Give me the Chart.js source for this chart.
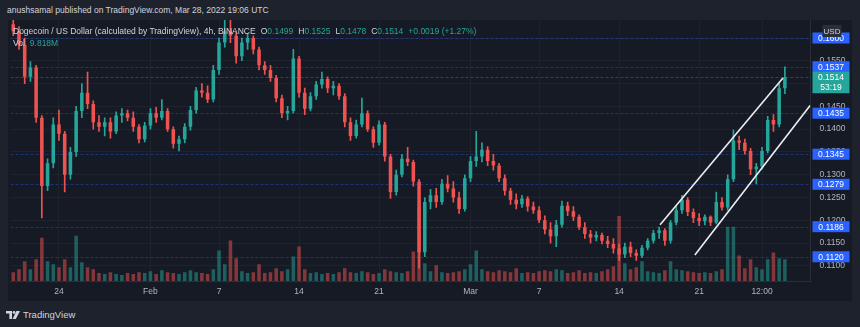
<!DOCTYPE html>
<html>
<head>
<meta charset="utf-8">
<script src="https://cdn.jsdelivr.net/npm/chart.js@4.4.1/dist/chart.umd.min.js"></script>
<style>
  html, body { margin: 0; padding: 0; }
  body { width: 860px; height: 327px; background: #1e222d; position: relative; overflow: hidden;
         font-family: Arial, "Liberation Sans", sans-serif; color: #d1d4dc; }
  #byline { position: absolute; left: 7px; top: 5px; font-size: 8.5px; line-height: 11px; white-space: nowrap; }
  #panel { position: absolute; left: 8px; top: 20px; width: 844px; height: 281px; background: #161a25; }
  #chart { position: absolute; left: 0; top: 0; }
  #legend { position: absolute; left: 5px; top: 6px; font-size: 8.5px; line-height: 11px; white-space: nowrap; }
  #vol { position: absolute; left: 5px; top: 18px; font-size: 8.5px; line-height: 11px; white-space: nowrap; }
  .up { color: #26a69a; }
  .gap { margin-left: 5px; }
  #footer { position: absolute; left: 6px; top: 309px; font-size: 9.5px; line-height: 11px; color: #d1d4dc; white-space: nowrap; }
  #footer svg { vertical-align: -1px; margin-right: 3px; }
</style>
</head>
<body>
<div id="byline">anushsamal published on TradingView.com, Mar 28, 2022 19:06 UTC</div>
<div id="panel">
  <canvas id="chart" width="844" height="281"></canvas>
  <div id="legend">Dogecoin / US Dollar (calculated by TradingView), 4h, BINANCE<span class="gap">O</span><span class="up">0.1499</span><span class="gap">H</span><span class="up">0.1525</span><span class="gap">L</span><span class="up">0.1478</span><span class="gap">C</span><span class="up">0.1514</span><span class="gap up">+0.0019 (+1.27%)</span></div>
  <div id="vol">Vol<span class="gap up">9.818M</span></div>
</div>
<div id="footer"><svg width="14" height="8" viewBox="0 0 14 8"><path d="M0 0h6v8H3.4V2.4H0z" fill="#d1d4dc"/><circle cx="8" cy="1.4" r="1.4" fill="#d1d4dc"/><path d="M10.4 0h3.6l-4.2 8H6.6z" fill="#d1d4dc"/></svg>TradingView</div>

<script>
// 12h candles, Jan 20 00:00 UTC -> Mar 28 12:00 UTC
const firstCandle = Date.UTC(2022, 0, 20);
const step = 12 * 3600 * 1000;

const opens = [
  0.1630, 0.1615, 0.1585, 0.1515, 0.1535, 0.1425, 0.1275, 0.1325, 0.1410, 0.1390,
  0.1300, 0.1350, 0.1440, 0.1480, 0.1455, 0.1415, 0.1405, 0.1415, 0.1395, 0.1430,
  0.1435, 0.1425, 0.1405, 0.1378, 0.1408, 0.1435, 0.1425, 0.1440, 0.1400, 0.1368,
  0.1378, 0.1405, 0.1442, 0.1485, 0.1480, 0.1465, 0.1530, 0.1590, 0.1615, 0.1605,
  0.1560, 0.1590, 0.1600, 0.1575, 0.1540, 0.1530, 0.1512, 0.1468, 0.1435, 0.1440,
  0.1555, 0.1480, 0.1445, 0.1472, 0.1498, 0.1510, 0.1490, 0.1495, 0.1472, 0.1415,
  0.1385, 0.1410, 0.1435, 0.1400, 0.1370, 0.1410, 0.1340, 0.1262, 0.1300, 0.1335,
  0.1328, 0.1285, 0.1130, 0.1240, 0.1255, 0.1240, 0.1280, 0.1270, 0.1250, 0.1225,
  0.1292, 0.1330, 0.1340, 0.1355, 0.1330, 0.1320, 0.1292, 0.1265, 0.1245, 0.1235,
  0.1248, 0.1230, 0.1222, 0.1200, 0.1180, 0.1165, 0.1190, 0.1232, 0.1220, 0.1208,
  0.1185, 0.1170, 0.1162, 0.1168, 0.1155, 0.1148, 0.1138, 0.1125, 0.1142, 0.1128,
  0.1122, 0.1140, 0.1155, 0.1172, 0.1178, 0.1155, 0.1195, 0.1222, 0.1245, 0.1218,
  0.1205, 0.1198, 0.1208, 0.1195, 0.1240, 0.1228, 0.1290, 0.1375, 0.1370, 0.1352,
  0.1312, 0.1318, 0.1352, 0.1420, 0.1410, 0.1490
];
const highs = [
  0.1645, 0.1625, 0.1600, 0.1548, 0.1540, 0.1430, 0.1335, 0.1425, 0.1442, 0.1395,
  0.1360, 0.1450, 0.1500, 0.1525, 0.1462, 0.1430, 0.1425, 0.1425, 0.1438, 0.1445,
  0.1442, 0.1438, 0.1410, 0.1415, 0.1445, 0.1448, 0.1465, 0.1445, 0.1405, 0.1385,
  0.1412, 0.1450, 0.1492, 0.1500, 0.1495, 0.1540, 0.1600, 0.1640, 0.1642, 0.1612,
  0.1600, 0.1610, 0.1605, 0.1580, 0.1548, 0.1540, 0.1518, 0.1475, 0.1450, 0.1575,
  0.1560, 0.1490, 0.1480, 0.1505, 0.1525, 0.1515, 0.1505, 0.1500, 0.1478, 0.1425,
  0.1420, 0.1468, 0.1440, 0.1405, 0.1418, 0.1415, 0.1345, 0.1310, 0.1345, 0.1360,
  0.1332, 0.1290, 0.1250, 0.1268, 0.1270, 0.1290, 0.1298, 0.1285, 0.1262, 0.1300,
  0.1340, 0.1395, 0.1370, 0.1362, 0.1345, 0.1325, 0.1300, 0.1270, 0.1258, 0.1255,
  0.1252, 0.1240, 0.1230, 0.1210, 0.1195, 0.1200, 0.1242, 0.1240, 0.1230, 0.1212,
  0.1195, 0.1178, 0.1175, 0.1172, 0.1165, 0.1160, 0.1148, 0.1150, 0.1152, 0.1135,
  0.1145, 0.1160, 0.1178, 0.1185, 0.1182, 0.1200, 0.1230, 0.1255, 0.1250, 0.1225,
  0.1215, 0.1212, 0.1210, 0.1262, 0.1250, 0.1300, 0.1398, 0.1385, 0.1378, 0.1358,
  0.1325, 0.1360, 0.1428, 0.1432, 0.1500, 0.1537
];
const lows = [
  0.1605, 0.1575, 0.1500, 0.1505, 0.1415, 0.1205, 0.1265, 0.1315, 0.1375, 0.1262,
  0.1290, 0.1340, 0.1425, 0.1445, 0.1400, 0.1395, 0.1385, 0.1380, 0.1390, 0.1415,
  0.1418, 0.1395, 0.1370, 0.1372, 0.1400, 0.1415, 0.1420, 0.1395, 0.1358, 0.1352,
  0.1370, 0.1398, 0.1435, 0.1470, 0.1458, 0.1460, 0.1520, 0.1580, 0.1590, 0.1545,
  0.1550, 0.1575, 0.1565, 0.1530, 0.1520, 0.1505, 0.1460, 0.1425, 0.1420, 0.1435,
  0.1470, 0.1432, 0.1440, 0.1465, 0.1490, 0.1480, 0.1475, 0.1465, 0.1405, 0.1375,
  0.1380, 0.1405, 0.1395, 0.1360, 0.1365, 0.1330, 0.1248, 0.1255, 0.1295, 0.1320,
  0.1275, 0.1095, 0.1120, 0.1225, 0.1228, 0.1235, 0.1262, 0.1240, 0.1215, 0.1220,
  0.1285, 0.1318, 0.1328, 0.1320, 0.1310, 0.1285, 0.1255, 0.1235, 0.1225, 0.1228,
  0.1220, 0.1215, 0.1195, 0.1170, 0.1150, 0.1142, 0.1185, 0.1210, 0.1200, 0.1180,
  0.1160, 0.1150, 0.1155, 0.1148, 0.1140, 0.1128, 0.1112, 0.1118, 0.1120, 0.1112,
  0.1118, 0.1135, 0.1150, 0.1160, 0.1145, 0.1150, 0.1190, 0.1215, 0.1210, 0.1195,
  0.1188, 0.1190, 0.1188, 0.1192, 0.1222, 0.1222, 0.1285, 0.1355, 0.1345, 0.1300,
  0.1280, 0.1312, 0.1348, 0.1395, 0.1405, 0.1478
];
const closes = [
  0.1615, 0.1585, 0.1515, 0.1535, 0.1425, 0.1275, 0.1325, 0.1410, 0.1390, 0.1300,
  0.1350, 0.1440, 0.1480, 0.1455, 0.1415, 0.1405, 0.1415, 0.1395, 0.1430, 0.1435,
  0.1425, 0.1405, 0.1378, 0.1408, 0.1435, 0.1425, 0.1440, 0.1400, 0.1368, 0.1378,
  0.1405, 0.1442, 0.1485, 0.1480, 0.1465, 0.1530, 0.1590, 0.1615, 0.1605, 0.1560,
  0.1590, 0.1600, 0.1575, 0.1540, 0.1530, 0.1512, 0.1468, 0.1435, 0.1440, 0.1555,
  0.1480, 0.1445, 0.1472, 0.1498, 0.1510, 0.1490, 0.1495, 0.1472, 0.1415, 0.1385,
  0.1410, 0.1435, 0.1400, 0.1370, 0.1410, 0.1340, 0.1262, 0.1300, 0.1335, 0.1328,
  0.1285, 0.1130, 0.1240, 0.1255, 0.1240, 0.1280, 0.1270, 0.1250, 0.1225, 0.1292,
  0.1330, 0.1340, 0.1355, 0.1330, 0.1320, 0.1292, 0.1265, 0.1245, 0.1235, 0.1248,
  0.1230, 0.1222, 0.1200, 0.1180, 0.1165, 0.1190, 0.1232, 0.1220, 0.1208, 0.1185,
  0.1170, 0.1162, 0.1168, 0.1155, 0.1148, 0.1138, 0.1125, 0.1142, 0.1128, 0.1122,
  0.1140, 0.1155, 0.1172, 0.1178, 0.1155, 0.1195, 0.1222, 0.1245, 0.1218, 0.1205,
  0.1198, 0.1208, 0.1195, 0.1240, 0.1228, 0.1290, 0.1375, 0.1370, 0.1352, 0.1312,
  0.1318, 0.1352, 0.1420, 0.1410, 0.1490, 0.1514
];
// volume in millions
const volumes = [
  9, 12, 20, 12, 22, 44, 20, 17, 14, 22,
  14, 46, 19, 14, 12, 8, 7, 9, 7, 6,
  8, 7, 9, 8, 10, 7, 11, 9, 8, 7,
  9, 11, 9, 8, 7, 12, 31, 17, 41, 23,
  10, 8, 9, 17, 8, 9, 13, 10, 12, 25,
  35, 12, 8, 9, 7, 8, 7, 9, 13, 9,
  8, 10, 9, 7, 8, 12, 10, 9, 8, 10,
  30, 75, 18, 10, 16, 9, 8, 9, 10, 12,
  17, 31, 12, 10, 9, 11, 10, 9, 13, 8,
  9, 8, 10, 11, 10, 12, 11, 8, 9, 11,
  8, 9, 8, 10, 12, 15, 66, 18, 12, 14,
  20, 10, 9, 8, 11, 20, 12, 11, 10, 9,
  8, 9, 8, 10, 12, 55, 55, 26, 13, 22,
  14, 12, 22, 29, 23, 22
];

const tickTimes = [
  Date.UTC(2022, 0, 24), Date.UTC(2022, 1, 1), Date.UTC(2022, 1, 7), Date.UTC(2022, 1, 14),
  Date.UTC(2022, 1, 21), Date.UTC(2022, 2, 1), Date.UTC(2022, 2, 7), Date.UTC(2022, 2, 14),
  Date.UTC(2022, 2, 21), Date.UTC(2022, 2, 26, 12)
];
const tickLabels = ["24", "Feb", "7", "14", "21", "Mar", "7", "14", "21", "12:00"];

const levelPrices = [0.1600, 0.1537, 0.1435, 0.1345, 0.1279, 0.1186, 0.1120];
const lastPrice = 0.1514;
const countdown = "53:19";

// trend channel drawn on the chart
const upperChannel = [{ x: Date.UTC(2022, 2, 17, 14), y: 0.1190 }, { x: Date.UTC(2022, 2, 28, 8), y: 0.1512 }];
const lowerChannel = [{ x: Date.UTC(2022, 2, 20, 15), y: 0.1124 }, { x: Date.UTC(2022, 2, 30, 17), y: 0.1452 }];

const UP = "#26a69a", DOWN = "#ef5350";
const times = closes.map((c, i) => firstCandle + i * step);
const colors = closes.map((c, i) => (c >= opens[i] ? UP : DOWN));
const volColors = closes.map((c, i) => (c >= opens[i] ? "rgba(38,166,154,0.5)" : "rgba(239,83,80,0.5)"));

const gridColor = "rgba(240,243,250,0.035)";

const levelsPlugin = {
  id: "levels",
  beforeDatasetsDraw(chart) {
    const { ctx, chartArea: a, scales } = chart;
    ctx.save();
    ctx.beginPath();
    ctx.rect(a.left, a.top, a.right - a.left, a.bottom - a.top);
    ctx.clip();
    ctx.lineWidth = 1;
    ctx.setLineDash([3, 2]);
    levelPrices.forEach((p) => {
      const y = Math.round(scales.y.getPixelForValue(p)) + 0.5;
      ctx.strokeStyle = "rgba(41,98,255,0.38)";
      ctx.beginPath(); ctx.moveTo(a.left, y); ctx.lineTo(a.right, y); ctx.stroke();
    });
    const yl = Math.round(scales.y.getPixelForValue(lastPrice)) + 0.5;
    ctx.strokeStyle = "rgba(38,166,154,0.4)";
    ctx.beginPath(); ctx.moveTo(a.left, yl); ctx.lineTo(a.right, yl); ctx.stroke();
    ctx.restore();
  },
  afterDraw(chart) {
    const { ctx, scales } = chart;
    const ax = scales.y;
    const bx = ax.left + 2, bw = 37;
    ctx.save();
    ctx.font = "8.5px Arial";
    ctx.textAlign = "center";
    ctx.textBaseline = "middle";
    levelPrices.forEach((p) => {
      const y = ax.getPixelForValue(p);
      ctx.fillStyle = "#2962ff";
      ctx.fillRect(bx, y - 5.5, bw, 11);
      ctx.fillStyle = "#ffffff";
      ctx.fillText(p.toFixed(4), bx + bw / 2, y + 0.5);
    });
    const yl = ax.getPixelForValue(lastPrice);
    ctx.fillStyle = UP;
    ctx.fillRect(bx, yl - 5.5, bw, 21.5);
    ctx.fillStyle = "#ffffff";
    ctx.fillText(lastPrice.toFixed(4), bx + bw / 2, yl + 0.5);
    ctx.fillText(countdown, bx + bw / 2, yl + 10);
    // currency badge
    ctx.fillStyle = "#2a2e39";
    ctx.fillRect(bx + 10, 5, 19, 12);
    ctx.fillStyle = "#d1d4dc";
    ctx.font = "8px Arial";
    ctx.fillText("USD", bx + 19.5, 11.5);
    ctx.restore();
  }
};

new Chart(document.getElementById("chart"), {
  type: "bar",
  data: {
    datasets: [
      {
        label: "Volume", yAxisID: "vol", order: 4, grouped: false,
        data: times.map((t, i) => ({ x: t, y: volumes[i] })),
        backgroundColor: volColors, barPercentage: 0.62, categoryPercentage: 1
      },
      {
        label: "Wick", order: 3, grouped: false,
        data: times.map((t, i) => ({ x: t, y: [lows[i], highs[i]] })),
        backgroundColor: colors, barThickness: 1
      },
      {
        label: "Body", order: 2, grouped: false,
        data: times.map((t, i) => ({ x: t, y: [opens[i], closes[i]] })),
        backgroundColor: colors, barPercentage: 0.62, categoryPercentage: 1
      },
      {
        type: "line", label: "Upper", order: 1, data: upperChannel,
        borderColor: "#eceff3", borderWidth: 1.6, pointRadius: 0
      },
      {
        type: "line", label: "Lower", order: 1, data: lowerChannel,
        borderColor: "#eceff3", borderWidth: 1.6, pointRadius: 0
      }
    ]
  },
  options: {
    responsive: false,
    animation: false,
    layout: { autoPadding: false, padding: { left: 2.5, right: 0, top: 0, bottom: 0 } },
    plugins: { legend: { display: false }, tooltip: { enabled: false } },
    scales: {
      x: {
        type: "linear",
        offset: false,
        min: firstCandle - 5.8 * 3600 * 1000,
        max: times[times.length - 1] + 53.8 * 3600 * 1000,
        afterBuildTicks: (s) => { s.ticks = tickTimes.map((v) => ({ value: v })); },
        afterFit: (s) => { s.height = 20; s.paddingLeft = 0; s.paddingRight = 0; },
        grid: { color: gridColor, drawTicks: false, offset: false },
        border: { color: "#2a2e39" },
        ticks: {
          color: "#b2b5be", font: { size: 8.5 }, padding: 6, maxRotation: 0, autoSkip: false,
          callback: (v, i) => tickLabels[i]
        }
      },
      y: {
        position: "right",
        min: 0.10668,
        max: 0.16395,
        afterFit: (s) => { s.width = 41.5; s.paddingTop = 0; s.paddingBottom = 0; },
        grid: { color: gridColor, drawTicks: false },
        border: { color: "#2a2e39" },
        ticks: {
          stepSize: 0.005, includeBounds: false, color: "#b2b5be", font: { size: 8.5 }, padding: 9,
          callback: (v) => v.toFixed(4)
        }
      },
      vol: { display: false, min: 0, max: 265 }
    }
  },
  plugins: [levelsPlugin]
});
</script>
</body>
</html>
